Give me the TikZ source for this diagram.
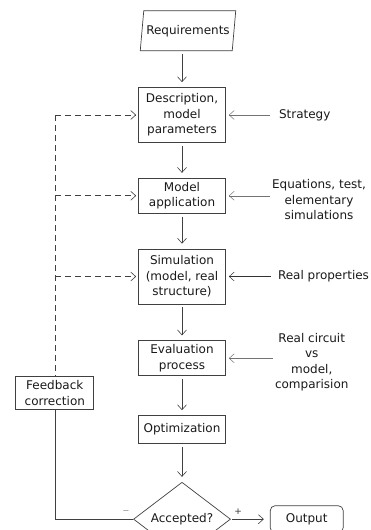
\documentclass[tikz,border=0pt]{standalone}
\usepackage{fontspec}
\setmainfont{DejaVu Sans}
\usetikzlibrary{positioning,arrows.meta,shapes.geometric}

\begin{document}
\begin{tikzpicture}[>={Straight Barb[length=5pt,width=9pt]},
  font=\fontsize{12}{15.5}\selectfont,
  box/.style={draw=black!75,line width=0.7pt,minimum width=87pt,
              align=center,inner xsep=3pt,inner ysep=4pt,text=black!90},
  note/.style={align=center,inner sep=2pt,text=black!90},
  flow/.style={->,draw=black!75,line width=0.6pt,shorten <=3pt,shorten >=5pt},
  feed/.style={draw=black!75,line width=0.6pt,dash pattern=on 6pt off 4pt},
  inarrow/.style={->,draw=black!55,line width=0.5pt,shorten >=3pt},
  node distance=36pt]
\useasboundingbox (0pt,0pt) rectangle (371pt,-530pt);
% main column
\node[box,minimum height=55pt] (desc) at (182pt,-115pt) {Description,\\model\\parameters};
\node[draw=black!75,line width=0.7pt,text=black!90,trapezium,trapezium left angle=76,
      trapezium right angle=104,trapezium stretches=true,minimum width=96pt,
      minimum height=40pt,inner sep=1pt,above=36pt of desc,xshift=6pt] (req) {Requirements};
\node[box,below=35pt of desc] (model) {Model\\application};
\node[box,minimum height=55pt,below=35pt of model] (sim) {Simulation\\(model, real\\structure)};
\node[box,below=36pt of sim] (eval) {Evaluation\\process};
\node[box,minimum height=28pt,below=39pt of eval] (opt) {Optimization};
\node[draw=black!75,line width=0.7pt,text=black!90,diamond,minimum width=97pt,
      minimum height=54pt,inner sep=0pt,below=38pt of opt] (acc) {Accepted?};
\node[box,rounded corners=5pt,minimum width=73pt,minimum height=27pt,right=39pt of acc] (out) {Output};
\node[box,minimum width=78pt,below left=0pt and 44pt of eval.south west] (fb) {Feedback\\correction};
% side inputs
\node[note,right=51pt of desc] (strat) {Strategy};
\node[note,right=44pt of model,yshift=-4pt] (equ) {Equations, test,\\elementary\\simulations};
\node[note,right=50pt of sim] (prop) {Real properties};
\node[note,right=47pt of eval,yshift=-4pt] (circ) {Real circuit\\vs\\model,\\comparision};
\node[font=\small,text=black!80,above left=1pt and 0pt of acc.west] (minus) {$-$};
\node[font=\small,text=black!80,above right=1pt and 0pt of acc.east] (plus) {+};
% connectors
\draw[flow] (req.south -| desc.north) -- (desc.north);
\foreach \u/\v in {desc/model,model/sim,sim/eval,eval/opt,opt/acc}
  \draw[flow] (\u) -- (\v);
\draw[flow,shorten <=1pt,shorten >=6pt] (acc) -- (out);
\draw[inarrow,shorten <=7pt] (strat.west) -- (desc.east);
\draw[inarrow] (model.east -| equ.west) -- (model.east);
\draw[inarrow,draw=black!80,shorten <=5pt] (prop) -- (sim);
\draw[inarrow] (eval.east -| circ.west) -- (eval.east);
% feedback
\foreach \b in {desc,model,sim}
  \draw[feed,->,shorten >=2pt] (fb.north |- \b.west) -- (\b.west);
\draw[feed] (fb.north |- desc.west) -- (fb.north);
\draw[draw=black!75,line width=0.6pt] (fb.south) |- (acc.west);
\end{tikzpicture}
\end{document}
